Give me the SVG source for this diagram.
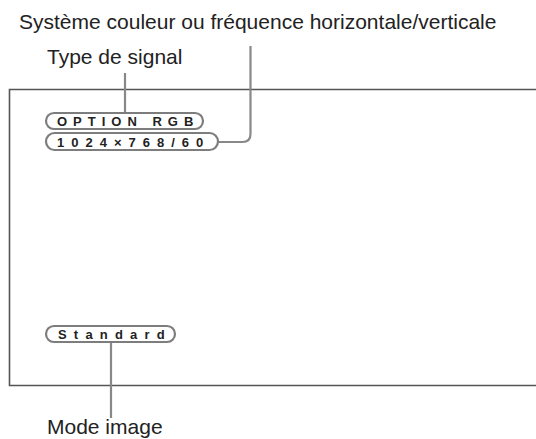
<svg xmlns="http://www.w3.org/2000/svg" width="536" height="439" viewBox="0 0 536 439">
<style>
.lbl{font-family:"Liberation Sans",Arial,sans-serif;font-size:21px;fill:#222}
.pill{fill:#fff;stroke:#7d7d7d;stroke-width:2.2}
.ptxt{font-family:"Liberation Sans",Arial,sans-serif;font-size:13px;font-weight:bold;fill:#222}
.conn{fill:none;stroke:#888;stroke-width:2.2}
</style>
<rect width="536" height="439" fill="#fff"/>
<g id="screen">
<path d="M540 89.5 H9.5 V385.5 H540" fill="none" stroke="#555" stroke-width="1.6"/>
</g>
<g id="connectors">
<path class="conn" d="M125 73 V113"/>
<path class="conn" d="M250.5 46 V134 Q250.5 142 242.5 142 H218"/>
<path class="conn" d="M111 342 V418"/>
</g>
<g id="label-systeme"><text class="lbl" x="19" y="29">Système couleur ou fréquence horizontale/verticale</text></g>
<g id="label-type"><text class="lbl" x="47" y="64">Type de signal</text></g>
<g id="label-mode"><text class="lbl" x="47" y="434">Mode image</text></g>
<g id="pill-option">
<rect class="pill" x="46" y="113" width="157" height="16" rx="8"/>
<text class="ptxt" x="57" y="126" letter-spacing="6">OPTION RGB</text>
</g>
<g id="pill-freq">
<rect class="pill" x="46" y="133" width="172" height="17" rx="8.5"/>
<text class="ptxt" x="57" y="146.5" letter-spacing="7">1024×768/60</text>
</g>
<g id="pill-standard">
<rect class="pill" x="46" y="326" width="129" height="16" rx="8"/>
<text class="ptxt" x="58" y="339" letter-spacing="7.2">Standard</text>
</g>
</svg>
